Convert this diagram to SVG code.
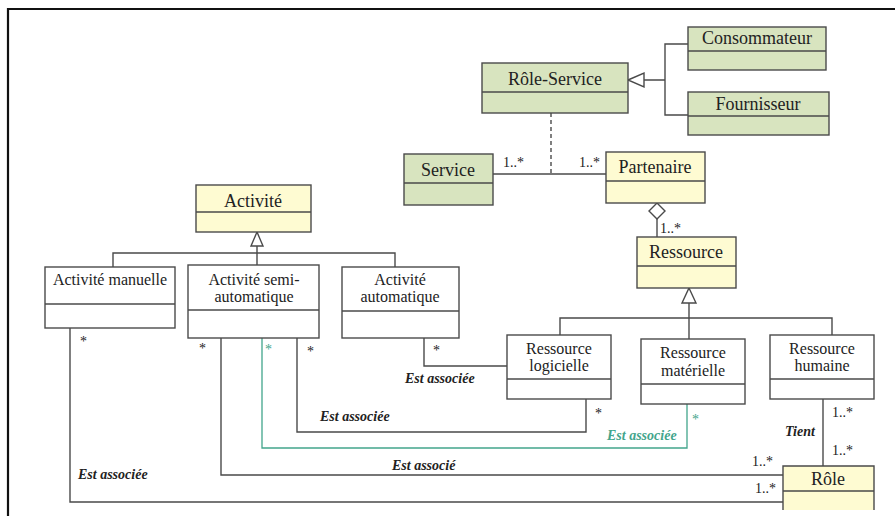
<svg xmlns="http://www.w3.org/2000/svg" width="895" height="516" viewBox="0 0 895 516">
<style>
.box{stroke:#4a4a4a;stroke-width:1.4}
.g{fill:#d8e4bf}
.y{fill:#fefbd2}
.w{fill:#ffffff}
.ln{fill:none;stroke:#4a4a4a;stroke-width:1.4}
.teal{fill:none;stroke:#43a58c;stroke-width:1.3}
.t18{font-family:"Liberation Serif","Times New Roman",serif;font-size:18px;fill:#222;text-anchor:middle}
.t16{font-family:"Liberation Serif","Times New Roman",serif;font-size:16px;fill:#222;text-anchor:middle}
.m{font-family:"Liberation Serif","Times New Roman",serif;font-size:14px;fill:#222}
.lab{font-family:"Liberation Serif","Times New Roman",serif;font-size:14px;font-weight:bold;font-style:italic;fill:#222}
.tl{fill:#43a58c}
</style>
<rect x="0" y="0" width="895" height="516" fill="#ffffff"/>
<path d="M8,516 V9 H895" fill="none" stroke="#111" stroke-width="2.2"/>

<g id="connectors">
  <!-- Role-Service generalization -->
  <path class="ln" d="M688,44 H665 V115 H688 M665,80 H644"/>
  <path class="ln" fill="#fff" d="M628,80 L644,73 L644,87 Z" style="fill:#fff"/>
  <!-- association class dashed -->
  <path class="ln" d="M551,113 V174" stroke-dasharray="4,3"/>
  <!-- Service - Partenaire -->
  <path class="ln" d="M493,174 H606"/>
  <!-- aggregation Partenaire - Ressource -->
  <path class="ln" d="M657,219 V237"/>
  <path class="ln" style="fill:#fff" d="M657,203 L665,211 L657,219 L649,211 Z"/>
  <!-- Activite generalization -->
  <path class="ln" d="M113,267 V253 H395 V267 M257,253 V265 M257,246 V253"/>
  <path class="ln" style="fill:#fff" d="M257,232 L263,246 L251,246 Z"/>
  <!-- Ressource generalization -->
  <path class="ln" d="M560,335 V318 H832 V335 M689,303 V339"/>
  <path class="ln" style="fill:#fff" d="M689,288 L696,303 L682,303 Z"/>
  <!-- associations -->
  <path class="ln" d="M424,338 V366 H507"/>
  <path class="ln" d="M297,338 V432 H586 V399"/>
  <path class="teal" d="M262,338 V448 H687 V404"/>
  <path class="ln" d="M221,338 V475 H783"/>
  <path class="ln" d="M70,328 V502 H783"/>
  <path class="ln" d="M823,399 V466"/>

  <!-- multiplicities -->
  <text class="m" x="503" y="167">1..*</text>
  <text class="m" x="579" y="167">1..*</text>
  <text class="m" x="660" y="233">1..*</text>
  <text class="m" x="80" y="346">*</text>
  <text class="m" x="199" y="353">*</text>
  <text class="m tl" x="265" y="354">*</text>
  <text class="m" x="307" y="356">*</text>
  <text class="m" x="433" y="355">*</text>
  <text class="m" x="595" y="418">*</text>
  <text class="m tl" x="692" y="424">*</text>
  <text class="m" x="832" y="417">1..*</text>
  <text class="m" x="832" y="455">1..*</text>
  <text class="m" x="752" y="466">1..*</text>
  <text class="m" x="755" y="493">1..*</text>

  <!-- association labels -->
  <text class="lab" x="405" y="383">Est associée</text>
  <text class="lab" x="320" y="421">Est associée</text>
  <text class="lab tl" x="607" y="440">Est associée</text>
  <text class="lab" x="392" y="470">Est associé</text>
  <text class="lab" x="78" y="479">Est associée</text>
  <text class="lab" x="785" y="436">Tient</text>
</g>

<g id="consommateur">
  <rect class="box g" x="688" y="27" width="138" height="43"/>
  <line class="box" x1="688" y1="51" x2="826" y2="51"/>
  <text class="t18" x="757" y="44">Consommateur</text>
</g>
<g id="fournisseur">
  <rect class="box g" x="688" y="92" width="141" height="43"/>
  <line class="box" x1="688" y1="116" x2="829" y2="116"/>
  <text class="t18" x="758" y="110">Fournisseur</text>
</g>
<g id="role-service">
  <rect class="box g" x="482" y="63" width="146" height="50"/>
  <line class="box" x1="482" y1="92" x2="628" y2="92"/>
  <text class="t18" x="555" y="85">Rôle-Service</text>
</g>
<g id="service">
  <rect class="box g" x="404" y="154" width="89" height="51"/>
  <line class="box" x1="404" y1="183" x2="493" y2="183"/>
  <text class="t18" x="448" y="176">Service</text>
</g>
<g id="partenaire">
  <rect class="box y" x="606" y="152" width="99" height="51"/>
  <line class="box" x1="606" y1="181" x2="705" y2="181"/>
  <text class="t18" x="655" y="173">Partenaire</text>
</g>
<g id="ressource">
  <rect class="box y" x="637" y="237" width="99" height="51"/>
  <line class="box" x1="637" y1="266" x2="736" y2="266"/>
  <text class="t18" x="686" y="258">Ressource</text>
</g>
<g id="activite">
  <rect class="box y" x="196" y="185" width="115" height="47"/>
  <line class="box" x1="196" y1="212" x2="311" y2="212"/>
  <text class="t18" x="253" y="207">Activité</text>
</g>
<g id="activite-manuelle">
  <rect class="box w" x="45" y="267" width="130" height="61"/>
  <line class="box" x1="45" y1="304" x2="175" y2="304"/>
  <text class="t16" x="110" y="285">Activité manuelle</text>
</g>
<g id="activite-semi">
  <rect class="box w" x="188" y="265" width="131" height="73"/>
  <line class="box" x1="188" y1="310" x2="319" y2="310"/>
  <text class="t16" x="254" y="285">Activité semi-</text>
  <text class="t16" x="254" y="302">automatique</text>
</g>
<g id="activite-auto">
  <rect class="box w" x="342" y="267" width="117" height="71"/>
  <line class="box" x1="342" y1="311" x2="459" y2="311"/>
  <text class="t16" x="400" y="285">Activité</text>
  <text class="t16" x="400" y="302">automatique</text>
</g>
<g id="ressource-logicielle">
  <rect class="box w" x="507" y="335" width="104" height="64"/>
  <line class="box" x1="507" y1="379" x2="611" y2="379"/>
  <text class="t16" x="559" y="354">Ressource</text>
  <text class="t16" x="559" y="371">logicielle</text>
</g>
<g id="ressource-materielle">
  <rect class="box w" x="641" y="339" width="104" height="65"/>
  <line class="box" x1="641" y1="384" x2="745" y2="384"/>
  <text class="t16" x="693" y="358">Ressource</text>
  <text class="t16" x="693" y="376">matérielle</text>
</g>
<g id="ressource-humaine">
  <rect class="box w" x="770" y="335" width="104" height="64"/>
  <line class="box" x1="770" y1="379" x2="874" y2="379"/>
  <text class="t16" x="822" y="354">Ressource</text>
  <text class="t16" x="822" y="371">humaine</text>
</g>
<g id="role">
  <rect x="783" y="466" width="91" height="44" class="y"/>
  <path class="box" fill="none" d="M783,510 V466 H874 V510 M783,491 H874"/>
  <text class="t18" x="828" y="485">Rôle</text>
</g>
</svg>
